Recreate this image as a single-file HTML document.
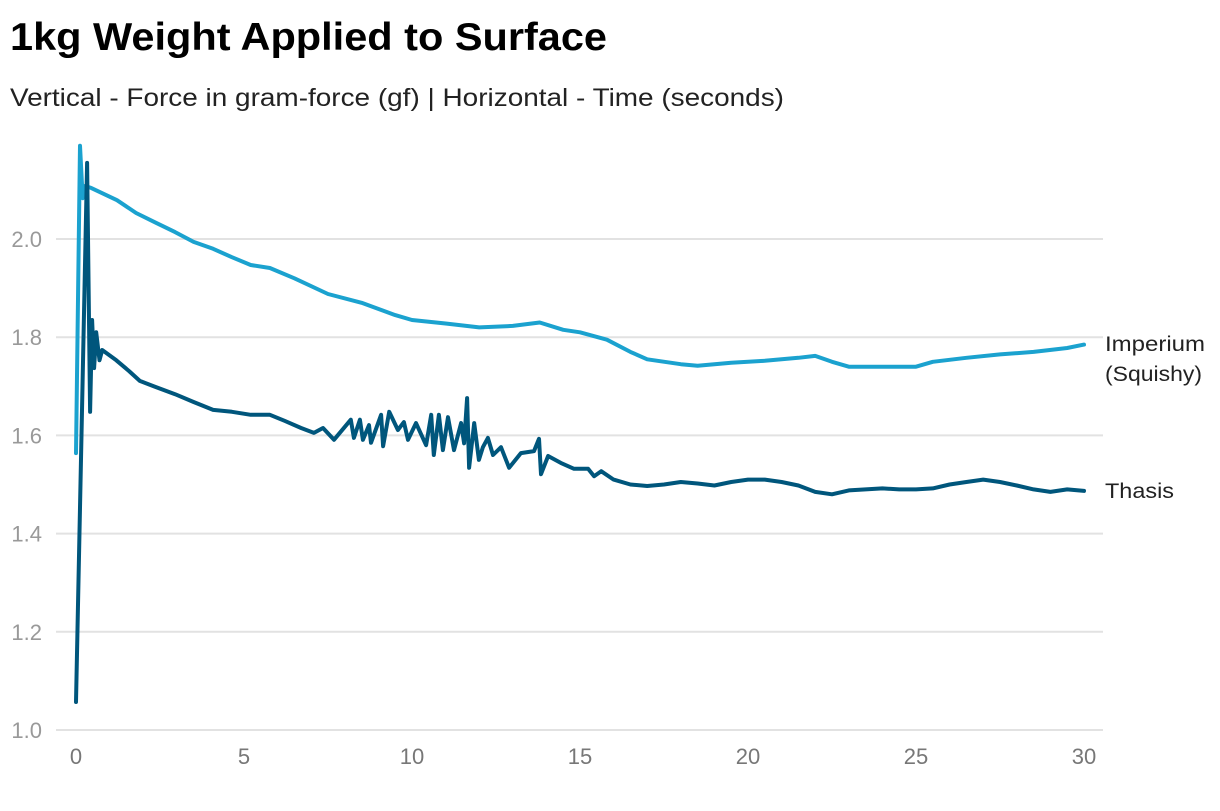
<!DOCTYPE html>
<html><head><meta charset="utf-8"><style>
body{margin:0;background:#fff;font-family:"Liberation Sans",sans-serif;}
svg text{font-family:"Liberation Sans",sans-serif;}
</style></head><body>
<svg id="chart" width="1220" height="806">
<text x="10" y="50" font-size="39" font-weight="bold" fill="#000" textLength="597" lengthAdjust="spacingAndGlyphs">1kg Weight Applied to Surface</text>
<text x="10" y="106" font-size="25" fill="#222" textLength="774" lengthAdjust="spacingAndGlyphs">Vertical - Force in gram-force (gf) | Horizontal - Time (seconds)</text>
<g id="grid"></g><g id="series"></g>
<text x="1105" y="351" font-size="21" fill="#222" textLength="100" lengthAdjust="spacingAndGlyphs">Imperium</text>
<text x="1105" y="381" font-size="21" fill="#222" textLength="97" lengthAdjust="spacingAndGlyphs">(Squishy)</text>
<text x="1105" y="498" font-size="21" fill="#222" textLength="69" lengthAdjust="spacingAndGlyphs">Thasis</text>
</svg>
<script>
const yTicks=[1.0,1.2,1.4,1.6,1.8,2.0];
const xTicks=[0,5,10,15,20,25,30];
const impT=[0,0.12,0.2,0.27,0.45,1.22,1.79,2.38,2.95,3.5,4.08,4.64,5.2,5.77,6.5,7.5,8.5,9.5,10,11,12,13,13.8,14.5,15,15.8,16.5,17,18,18.5,19.5,20.5,21.5,22,22.5,23,24,25,25.5,26.5,27.5,28.5,29.5,30];
const impV=[1.564,2.19,2.083,2.108,2.104,2.079,2.053,2.033,2.014,1.994,1.98,1.963,1.947,1.941,1.92,1.888,1.87,1.845,1.835,1.828,1.82,1.823,1.83,1.815,1.81,1.795,1.77,1.755,1.745,1.742,1.748,1.752,1.758,1.762,1.75,1.74,1.74,1.74,1.75,1.758,1.765,1.77,1.778,1.785];
const thaT=[0,0.33,0.42,0.48,0.54,0.6,0.7,0.78,1.2,1.58,1.9,2.35,2.95,3.5,4.08,4.64,5.2,5.77,6.2,6.7,7.08,7.35,7.68,8.18,8.27,8.45,8.54,8.72,8.78,9.08,9.14,9.32,9.58,9.76,9.88,10.12,10.42,10.57,10.65,10.8,10.92,11.07,11.25,11.46,11.55,11.64,11.7,11.85,11.99,12.11,12.26,12.41,12.65,12.89,13.24,13.63,13.78,13.84,14.05,14.43,14.82,15.24,15.42,15.63,16,16.5,17,17.5,18,18.5,19,19.5,20,20.5,21,21.5,22,22.5,23,23.5,24,24.5,25,25.5,26,26.5,27,27.5,28,28.5,29,29.5,30];
const thaV=[1.057,2.155,1.648,1.835,1.737,1.81,1.753,1.774,1.753,1.731,1.711,1.699,1.684,1.668,1.652,1.648,1.642,1.642,1.63,1.615,1.605,1.615,1.591,1.632,1.595,1.632,1.591,1.621,1.585,1.642,1.578,1.648,1.611,1.627,1.591,1.625,1.58,1.642,1.56,1.642,1.57,1.637,1.57,1.625,1.584,1.676,1.534,1.625,1.55,1.576,1.595,1.56,1.576,1.534,1.564,1.568,1.593,1.521,1.558,1.544,1.532,1.532,1.517,1.527,1.51,1.5,1.497,1.5,1.505,1.502,1.498,1.505,1.51,1.51,1.505,1.498,1.485,1.48,1.488,1.49,1.492,1.49,1.49,1.492,1.5,1.505,1.51,1.505,1.498,1.49,1.485,1.49,1.487];
const NS='http://www.w3.org/2000/svg';
const xS=t=>76+t*33.6;
const yS=v=>730-(v-1)*491;
const grid=document.getElementById('grid');
yTicks.forEach(v=>{
 const l=document.createElementNS(NS,'line');
 l.setAttribute('x1',56);l.setAttribute('x2',1103);l.setAttribute('y1',yS(v));l.setAttribute('y2',yS(v));
 l.setAttribute('stroke','#e2e2e2');l.setAttribute('stroke-width',2);
 
 
 grid.appendChild(l);
 const t=document.createElementNS(NS,'text');
 t.setAttribute('x',42);t.setAttribute('y',yS(v)+8);t.setAttribute('text-anchor','end');
 t.setAttribute('font-size',22);t.setAttribute('fill','#999');t.textContent=v.toFixed(1);
 
 
 grid.appendChild(t);
});
xTicks.forEach(v=>{
 const t=document.createElementNS(NS,'text');
 t.setAttribute('x',xS(v));t.setAttribute('y',764);t.setAttribute('text-anchor','middle');
 t.setAttribute('font-size',22);t.setAttribute('fill','#777');t.textContent=v;
 
 
 grid.appendChild(t);
});
function draw(T,V,color,name){
 const p=document.createElementNS(NS,'path');
 p.setAttribute('d',T.map((t,i)=>(i?'L':'M')+xS(t).toFixed(1)+','+yS(V[i]).toFixed(1)).join(''));
 p.setAttribute('fill','none');p.setAttribute('stroke',color);p.setAttribute('stroke-width',4);
 p.setAttribute('stroke-linejoin','round');p.setAttribute('stroke-linecap','round');
 
 
 document.getElementById('series').appendChild(p);
}
draw(impT,impV,'#1ba2cf','imperium-line');
draw(thaT,thaV,'#00567c','thasis-line');
</script>
</body></html>
